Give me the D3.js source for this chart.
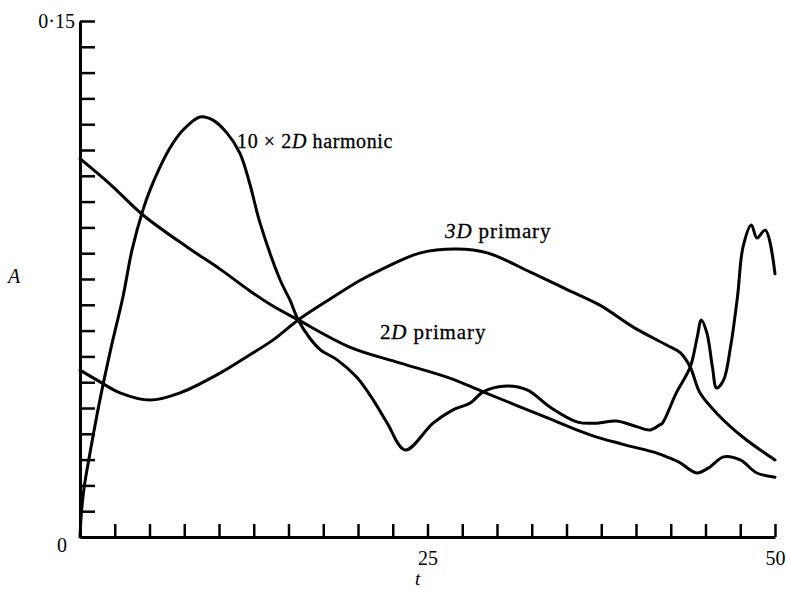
<!DOCTYPE html>
<html>
<head>
<meta charset="utf-8">
<script src="https://cdn.jsdelivr.net/npm/d3@7"></script>
<style>
  body { margin: 0; background: #fff; }
  svg { display: block; }
  text { font-family: "Liberation Serif", "DejaVu Serif", serif; fill: #000; }
</style>
</head>
<body>
<div id="chart"></div>
<script>
"use strict";

// 10 x 2D harmonic
var harmonicT = [0, 0.1, 0.3, 0.7, 1.44, 2.2, 3.1, 3.74, 4.53, 5.04, 5.76, 6.47, 7.41, 8.63, 9.57, 10.58, 11.5, 12.2, 12.95,
  14.4, 15.1, 15.7, 16.5, 17.3, 18.5, 19.9, 21.1, 22.1, 23.4, 25.4, 26.8, 28.1, 29.0, 30.7, 32.2, 33.8, 35.8, 37.2,
  38.6, 40.1, 41.0, 41.7, 41.9, 42.9, 43.9, 44.4, 44.7, 45.1, 45.5, 45.8, 46.3, 46.8, 47.3, 47.7, 48.3, 48.7, 49.3, 50];
var harmonicA = [0, 0.007, 0.0145, 0.024, 0.040, 0.0544, 0.070, 0.0834, 0.0951, 0.1009, 0.1076, 0.1131, 0.1183, 0.1221,
  0.1212, 0.1174, 0.1116, 0.1029, 0.0913, 0.0747, 0.0689, 0.0631, 0.058, 0.0544, 0.0515, 0.0465, 0.0398, 0.0331, 0.0253,
  0.0331, 0.0369, 0.039, 0.0422, 0.0439, 0.0427, 0.0378, 0.0334, 0.0331, 0.0337, 0.032, 0.0311, 0.0326, 0.0331, 0.0419,
  0.0494, 0.058, 0.0631, 0.0593, 0.0494, 0.0433, 0.0456, 0.0552, 0.0698, 0.0843, 0.0907, 0.0869, 0.0892, 0.0765];

// 2D primary
var primary2dT = [0, 2.16, 4.53, 7.7, 10.1, 12.2, 13.7, 15.7, 19.4, 23.0, 26.6, 29.0, 33.1, 36.7, 39.0, 41.5, 42.2,
  43.2, 43.9, 44.4, 45.3, 46.3, 47.5, 48.7, 50];
var primary2dA = [0.110, 0.1026, 0.0936, 0.0843, 0.0778, 0.0716, 0.0676, 0.0631, 0.0552, 0.0506, 0.0462, 0.0422,
  0.0355, 0.0297, 0.027, 0.0244, 0.0233, 0.0215, 0.0195, 0.0186, 0.0203, 0.0233, 0.0224, 0.0186, 0.0174];

// 3D primary
var primary3dT = [0, 1.44, 2.88, 5.04, 7.2, 10.1, 12.2, 13.9, 15.7, 18.0, 20.1, 21.6, 24.5, 27.1, 29.3, 32.4, 35.0,
  37.4, 39.8, 42.2, 43.2, 43.9, 44.6, 45.8, 47.7, 50];
var primary3dA = [0.0485, 0.0451, 0.0419, 0.0398, 0.0419, 0.0477, 0.0529, 0.0573, 0.0631, 0.0692, 0.0745, 0.0776,
  0.0826, 0.0837, 0.0826, 0.077, 0.072, 0.0674, 0.061, 0.0558, 0.0535, 0.0494, 0.0419, 0.036, 0.029, 0.0224];

// axis ticks
var xTicks = d3.range(1, 21).map(function(i) { return i * 2.5; });
var xTickLabels = { 25: "25", 50: "50" };
var yTicks = d3.range(1, 21).map(function(i) { return i * 0.0075; });
var yTickLabels = { 20: "0·15" };

function initChart(element) {
  var width = 786,
    height = 589,
    left = 80,
    right = 775,
    top = 21,
    bottom = 537;

  var x = d3.scaleLinear().domain([0, 50]).range([left, right]);
  var y = d3.scaleLinear().domain([0, 0.15]).range([bottom, top]);

  var svg = d3.select(element).append("svg")
    .attr("width", width)
    .attr("height", height);

  // curves
  var line = d3.line()
    .x(function(d) { return x(d[0]); })
    .y(function(d) { return y(d[1]); })
    .curve(d3.curveCatmullRom.alpha(0.5));

  var series = [
    d3.zip(harmonicT, harmonicA),
    d3.zip(primary2dT, primary2dA),
    d3.zip(primary3dT, primary3dA)
  ];

  svg.selectAll(".curve")
    .data(series)
    .enter().append("path")
    .attr("class", "curve")
    .attr("d", line)
    .style("fill", "none")
    .style("stroke", "#000")
    .style("stroke-width", 3)
    .style("stroke-linejoin", "round")
    .style("stroke-linecap", "round");

  // axes
  var xAxis = svg.append("g")
    .attr("transform", "translate(0," + bottom + ")")
    .call(d3.axisBottom(x)
      .tickValues(xTicks)
      .tickSizeInner(-13)
      .tickSizeOuter(0)
      .tickPadding(14)
      .tickFormat(function(d) { return xTickLabels[d] || ""; }));

  var yAxis = svg.append("g")
    .attr("transform", "translate(" + left + ",0)")
    .call(d3.axisLeft(y)
      .tickValues(yTicks)
      .tickSizeInner(-15)
      .tickSizeOuter(0)
      .tickPadding(5)
      .tickFormat(function(d, i) { return yTickLabels[i + 1] || ""; }));

  [xAxis, yAxis].forEach(function(ax) {
    ax.attr("font-family", null).attr("font-size", null);
    ax.select(".domain").style("stroke", "#000").style("stroke-width", 3);
    ax.selectAll(".tick line").style("stroke", "#000").style("stroke-width", 2.5);
    ax.selectAll(".tick text").style("font-size", "20px");
  });

  // origin label
  svg.append("text")
    .attr("x", left - 13)
    .attr("y", bottom + 15)
    .attr("text-anchor", "end")
    .style("font-size", "20px")
    .text("0");

  // axis titles
  svg.append("text")
    .attr("x", 8)
    .attr("y", 283)
    .style("font-size", "20px")
    .style("font-style", "italic")
    .text("A");

  svg.append("text")
    .attr("x", 415)
    .attr("y", 585)
    .style("font-size", "19px")
    .style("font-style", "italic")
    .text("t");

  // curve labels
  function label(t, a, size, spacing, parts) {
    var txt = svg.append("text")
      .attr("x", x(t))
      .attr("y", y(a))
      .style("font-size", size + "px")
      .style("letter-spacing", spacing + "px")
      .style("stroke", "#000")
      .style("stroke-width", 0.3);
    parts.forEach(function(p) {
      txt.append("tspan")
        .style("font-style", p[1] ? "italic" : "normal")
        .text(p[0]);
    });
  }

  label(11.3, 0.1131, 20, 0.6, [["10 × 2", false], ["D", true], [" harmonic", false]]);
  label(26.26, 0.0869, 21, 0.9, [["3D", true], [" primary", false]]);
  label(21.58, 0.0576, 21, 0.9, [["2", false], ["D", true], [" primary", false]]);
}

initChart(document.getElementById("chart"));
</script>
</body>
</html>
